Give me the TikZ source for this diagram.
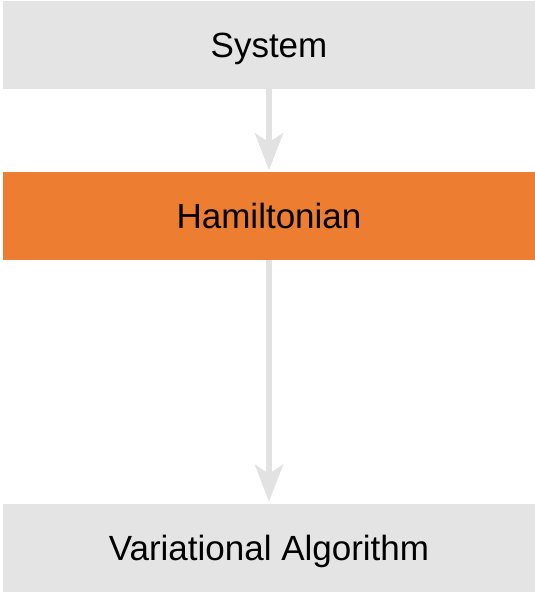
\documentclass[tikz,border=0pt]{standalone}
\usepackage{fontspec}
\setmainfont{Liberation Sans}
\usetikzlibrary{arrows.meta}
\definecolor{boxgray}{HTML}{E4E4E4}
\definecolor{boxorange}{HTML}{ED7D31}
\definecolor{arrowgray}{HTML}{E2E2E2}
\begin{document}
\begin{tikzpicture}[x=1pt,y=-1pt,
  blk/.style={rectangle, inner sep=0pt, minimum width=532pt, minimum height=88pt, text height=25pt, text depth=0pt, font=\fontsize{35}{40}\selectfont, text=black},
  grayblk/.style={blk, fill=boxgray},
  orangeblk/.style={blk, fill=boxorange},
  conn/.style={draw=arrowgray, line width=6pt, -{Stealth[length=37pt,width=28pt,inset=9pt]}, shorten >=1.5pt}]
\useasboundingbox (0,0) rectangle (535,592);
\node[grayblk] (sys) at (269,45) {System};
\node[orangeblk] (ham) at (269,216) {Hamiltonian};
\node[grayblk] (var) at (269,547.5) {Variational Algorithm};
\draw[conn] (sys) -- (ham);
\draw[conn] (ham) -- (var);
\end{tikzpicture}
\end{document}
